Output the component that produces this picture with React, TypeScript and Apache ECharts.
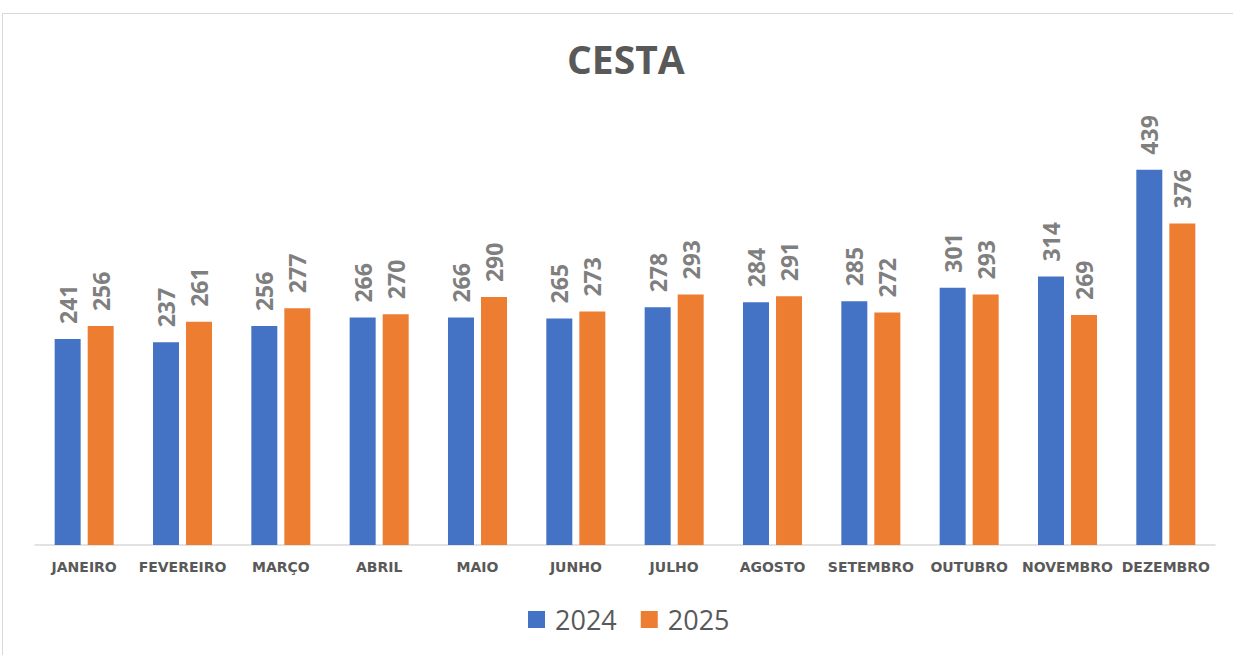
import React, { useEffect, useRef } from "react";
import * as echarts from "echarts";

const categories = ["JANEIRO", "FEVEREIRO", "MARÇO", "ABRIL", "MAIO", "JUNHO", "JULHO", "AGOSTO", "SETEMBRO", "OUTUBRO", "NOVEMBRO", "DEZEMBRO"];
const values2024 = [241, 237, 256, 266, 266, 265, 278, 284, 285, 301, 314, 439];
const values2025 = [256, 261, 277, 270, 290, 273, 293, 291, 272, 293, 269, 376];

export default function App() {
  const ref = useRef<HTMLDivElement>(null);
  useEffect(() => {
    if (!ref.current) return;
    const chart = echarts.init(ref.current, null, { renderer: "svg" });
    const label = {
      show: true,
      position: "top",
      rotate: 90,
      align: "left",
      verticalAlign: "middle",
      distance: 15,
      color: "#7f7f7f",
      fontSize: 23,
      fontWeight: "bold",
      fontFamily: "Open Sans",
    };
    chart.setOption({
      animation: false,
      backgroundColor: "#ffffff",
      graphic: [
        {
          type: "rect",
          shape: { x: 2.5, y: 13.5, width: 1300, height: 700 },
          style: { fill: "none", stroke: "#d9d9d9", lineWidth: 1 },
          silent: true,
        },
      ],
      title: {
        text: "CESTA",
        left: 562,
        top: 34,
        textStyle: { color: "#595959", fontSize: 39, fontWeight: "bold", fontFamily: "Open Sans" },
      },
      legend: {
        bottom: 17,
        left: 523,
        itemWidth: 17,
        itemHeight: 17,
        itemGap: 24,
        icon: "rect",
        textStyle: { color: "#595959", fontSize: 27, fontFamily: "Open Sans", padding: [0, 0, 0, 5] },
        data: ["2024", "2025"],
      },
      grid: { left: 35, right: 18, top: 117.5, bottom: 110, containLabel: false },
      xAxis: {
        type: "category",
        data: categories,
        axisLine: { lineStyle: { color: "#d9d9d9", width: 1.5 } },
        axisTick: { show: false },
        axisLabel: {
          color: "#595959",
          fontSize: 14,
          fontWeight: "bold",
          fontFamily: "DejaVu Sans",
          margin: 15,
          interval: 0,
        },
      },
      yAxis: {
        type: "value",
        min: 0,
        max: 500,
        show: false,
        splitLine: { show: false },
      },
      series: [
        {
          name: "2024",
          type: "bar",
          data: values2024,
          barWidth: 26,
          barGap: "27%",
          itemStyle: { color: "#4472c4" },
          label,
        },
        {
          name: "2025",
          type: "bar",
          data: values2025,
          barWidth: 26,
          itemStyle: { color: "#ed7d31" },
          label,
        },
      ],
    });
    return () => chart.dispose();
  }, []);
  return <div ref={ref} style={{ position: "absolute", left: 0, top: 0, width: 1233, height: 655 }} />;
}
